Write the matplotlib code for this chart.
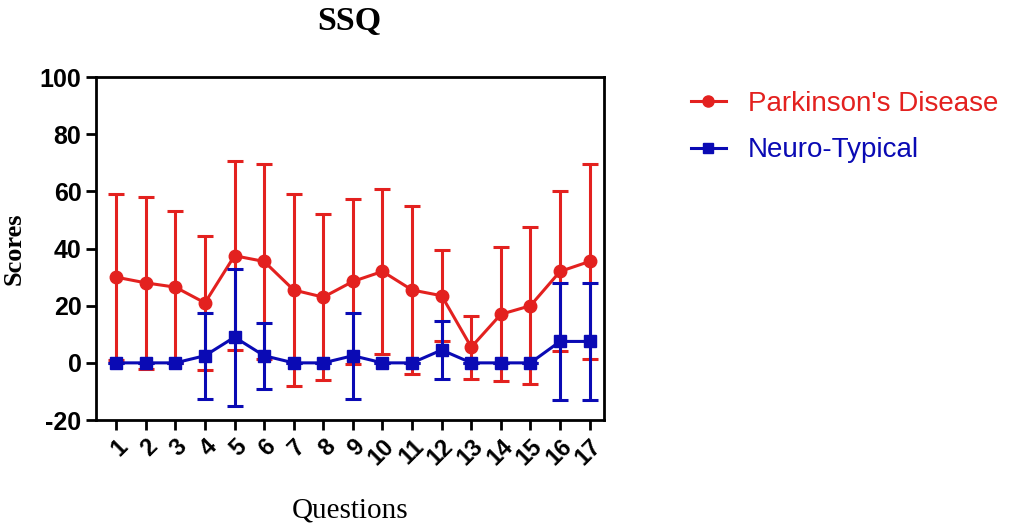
import matplotlib
matplotlib.use("Agg")
import matplotlib.pyplot as plt
from matplotlib.lines import Line2D
import numpy as np

plt.rcParams['axes.unicode_minus'] = False

questions = [str(i) for i in range(1, 18)]
pd_mean = [30, 28, 26.5, 21, 37.5, 35.5, 25.5, 23, 28.5, 32, 25.5, 23.5, 5.5, 17, 20, 32, 35.5]
pd_sd = [29, 30, 26.5, 23.5, 33, 34, 33.5, 29, 29, 29, 29.5, 16, 11, 23.5, 27.5, 28, 34]
nt_mean = [0, 0, 0, 2.5, 9, 2.5, 0, 0, 2.5, 0, 0, 4.5, 0, 0, 0, 7.5, 7.5]
nt_sd = [0, 0, 0, 15, 24, 11.5, 0, 0, 15, 0, 0, 10, 0, 0, 0, 20.5, 20.5]
series_labels = ["Parkinson's Disease", "Neuro-Typical"]

red = "#E3211F"
blue = "#0A0AB4"

fig = plt.figure(figsize=(10.13, 5.25), dpi=100)
ax = fig.add_axes([0.0948, 0.2, 0.501, 0.653])

x = np.arange(1, len(questions) + 1)
ax.errorbar(x, pd_mean, yerr=pd_sd, color=red, marker='o', markersize=9, lw=2.2,
            elinewidth=2.2, capsize=6, capthick=2.2, zorder=3)
ax.errorbar(x, nt_mean, yerr=nt_sd, color=blue, marker='s', markersize=8.5, lw=2.2,
            elinewidth=2.2, capsize=6, capthick=2.2, zorder=4)

ax.set_xlim(0.32, 17.47)
ax.set_ylim(-20, 100)
ax.set_yticks([-20, 0, 20, 40, 60, 80, 100])
ax.set_xticks(x)
ax.set_xticklabels(questions, rotation=45, ha='right', rotation_mode='anchor',
                   fontsize=17, fontweight='bold', family='Liberation Sans')
for lab in ax.get_yticklabels():
    lab.set_fontsize(18)
    lab.set_fontweight('bold')
    lab.set_family('Liberation Sans')
for s in ax.spines.values():
    s.set_linewidth(2)
ax.tick_params(direction='out', width=2, length=7)

ax.set_title("SSQ", fontsize=24.5, fontweight='bold', family='Liberation Serif', pad=34)
ax.set_ylabel("Scores", fontsize=19, fontweight='bold', family='Liberation Serif', labelpad=10)
ax.set_xlabel("Questions", fontsize=21, family='Liberation Serif', labelpad=20)

handles = [Line2D([], [], color=red, marker='o', markersize=8, lw=2.2),
           Line2D([], [], color=blue, marker='s', markersize=7, lw=2.2)]
leg = fig.legend(handles, series_labels, loc='upper left', bbox_to_anchor=(0.657, 0.875),
                 frameon=False, prop={'family': 'Liberation Sans', 'size': 20},
                 handlelength=1.26, handletextpad=0.8, labelspacing=0.75)
for t, c in zip(leg.get_texts(), [red, blue]):
    t.set_color(c)

fig.savefig("out.png", dpi=100)
